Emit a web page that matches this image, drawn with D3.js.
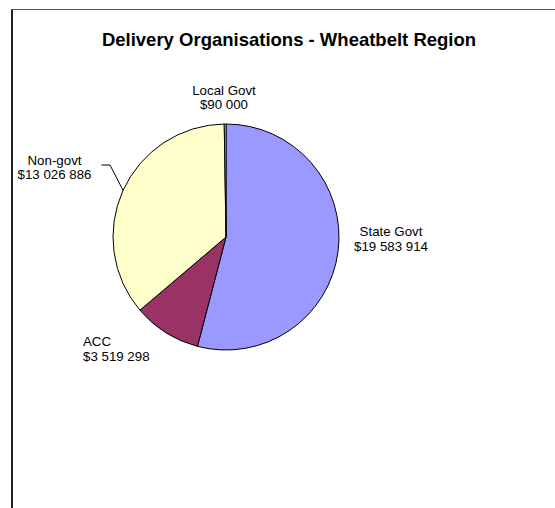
<!DOCTYPE html>
<html>
<head>
<meta charset="utf-8">
<script src="https://cdn.jsdelivr.net/npm/d3@7"></script>
<style>
  html, body { margin: 0; padding: 0; background: #fff; }
  svg { display: block; }
  text { font-family: Arial, "Liberation Sans", sans-serif; fill: #000; }
</style>
</head>
<body>
<svg id="chart" width="555" height="508"></svg>
<script>
// Funding by delivery organisation
const categories = ["State Govt", "ACC", "Non-govt", "Local Govt"];
const amounts = [19583914, 3519298, 13026886, 90000];
const amountLabels = ["$19 583 914", "$3 519 298", "$13 026 886", "$90 000"];
const sliceColors = ["#9999FF", "#993366", "#FFFFCC", "#CCFFFF"];
const title = "Delivery Organisations - Wheatbelt Region";

const data = categories.map((c, i) => ({ name: c, value: amounts[i], label: amountLabels[i], color: sliceColors[i] }));

const svg = d3.select("#chart");

// chart frame (left and top edges visible)
svg.append("line").attr("x1", 12).attr("y1", 9).attr("x2", 12).attr("y2", 508)
  .attr("stroke", "#222").attr("stroke-width", 2);
svg.append("line").attr("x1", 11).attr("y1", 9.5).attr("x2", 555).attr("y2", 9.5)
  .attr("stroke", "#555").attr("stroke-width", 1);

svg.append("text")
  .attr("x", 289).attr("y", 45.5)
  .attr("text-anchor", "middle")
  .style("font-size", "18.5px").style("font-weight", "bold")
  .text(title);

const cx = 226, cy = 237, r = 113;
const g = svg.append("g").attr("transform", `translate(${cx},${cy})`);

const pie = d3.pie().value(d => d.value).sort(null);
const arc = d3.arc().innerRadius(0).outerRadius(r);
const arcs = pie(data);

g.selectAll("path.slice").data(arcs).enter().append("path")
  .attr("class", "slice")
  .attr("d", arc)
  .attr("fill", d => d.data.color)
  .attr("stroke", "#000")
  .attr("stroke-width", 1)
  .attr("stroke-linejoin", "round");

// label placement, per slice: [x, y of first line, anchor]
const labelPos = {
  "State Govt": [391, 236, "middle"],
  "ACC": [83, 346, "start"],
  "Non-govt": [54.5, 164.5, "middle"],
  "Local Govt": [224, 94.5, "middle"]
};
const lineGap = 14.5;

arcs.forEach(a => {
  const [lx, ly, anchor] = labelPos[a.data.name];
  const t = svg.append("text")
    .attr("text-anchor", anchor)
    .style("font-size", "13.3px");
  t.append("tspan").attr("x", lx).attr("y", ly).text(a.data.name);
  t.append("tspan").attr("x", lx).attr("y", ly + lineGap).text(a.data.label);
});

// leader line for Non-govt label
const ng = arcs.find(a => a.data.name === "Non-govt");
const mid = (ng.startAngle + ng.endAngle) / 2;
const ex = cx + r * Math.sin(mid), ey = cy - r * Math.cos(mid);
svg.append("polyline")
  .attr("points", `101.5,165 110,165 ${ex},${ey}`)
  .attr("fill", "none").attr("stroke", "#000").attr("stroke-width", 1);
</script>
</body>
</html>
